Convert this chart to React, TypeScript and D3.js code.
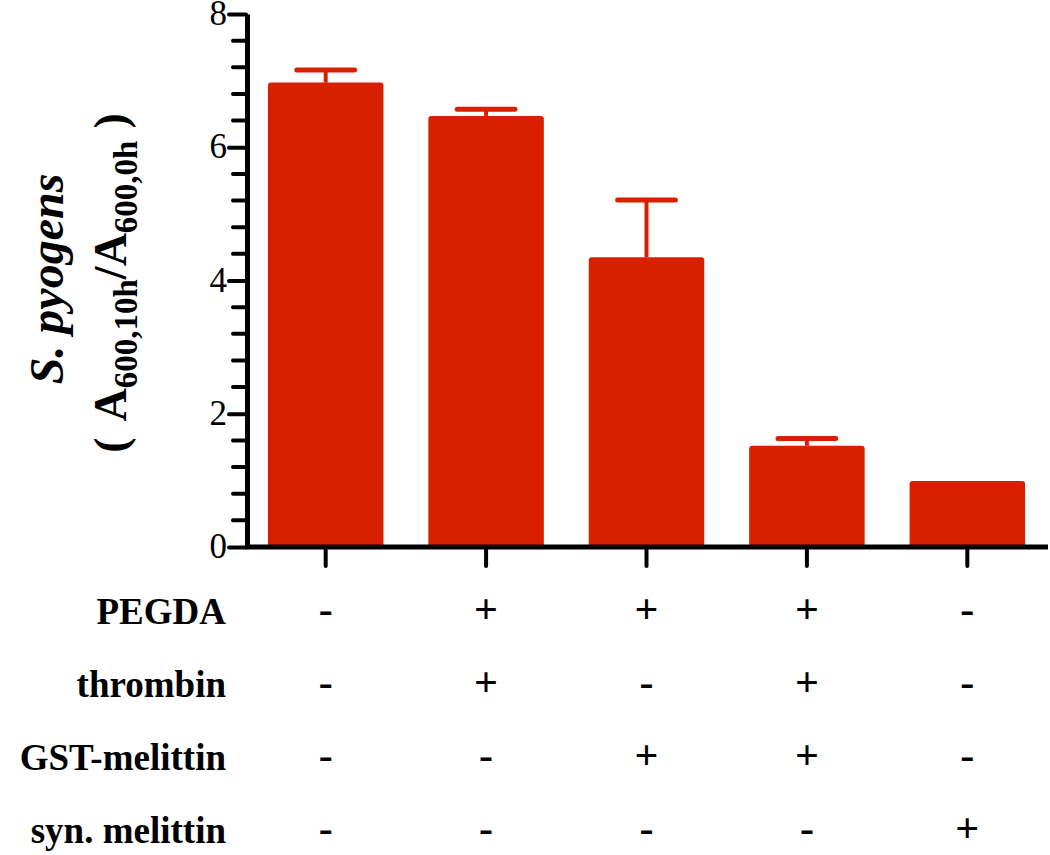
import { useEffect, useRef } from "react"
import * as d3 from "d3"

const groups = ["ctrl", "PEGDA+thrombin", "PEGDA+GST", "PEGDA+thrombin+GST", "syn"]
const means = [6.97, 6.47, 4.35, 1.52, 0.99]
const errors = [0.19, 0.1, 0.86, 0.11, 0]
const yTicks = [0, 2, 4, 6, 8]
const factors = ["PEGDA", "thrombin", "GST-melittin", "syn. melittin"]
const pegda = ["-", "+", "+", "+", "-"]
const thrombin = ["-", "+", "-", "+", "-"]
const gstMelittin = ["-", "-", "+", "+", "-"]
const synMelittin = ["-", "-", "-", "-", "+"]
const signs = [pegda, thrombin, gstMelittin, synMelittin]

const RED = "#d81f00"
const FONT = "'Liberation Serif', 'Times New Roman', serif"

export default function App() {
  const svgRef = useRef(null)

  useEffect(() => {
    document.body.style.margin = "0"
    const width = 1050
    const height = 855

    const svg = d3.select(svgRef.current).attr("width", width).attr("height", height)
    svg.selectAll("*").remove()

    const x = d3.scaleBand().domain(groups).range([245, 1048]).paddingInner(0.28).paddingOuter(0.143)
    const y = d3.scaleLinear().domain([0, 8]).range([547, 14])
    const rowY = d3.scaleLinear().domain([0, factors.length - 1]).range([624, 843])

    // bars
    svg
      .append("g")
      .selectAll("rect")
      .data(groups)
      .enter()
      .append("rect")
      .attr("x", (d) => x(d))
      .attr("y", (d, i) => y(means[i]))
      .attr("width", x.bandwidth())
      .attr("height", (d, i) => y(0) - y(means[i]) + 2)
      .attr("rx", 3)
      .attr("fill", RED)

    // error bars (upper only)
    const err = svg
      .append("g")
      .selectAll("g")
      .data(groups.filter((d, i) => errors[i] > 0))
      .enter()
      .append("g")
    const top = (d) => y(means[groups.indexOf(d)] + errors[groups.indexOf(d)])
    err
      .append("line")
      .attr("x1", (d) => x(d) + x.bandwidth() / 2)
      .attr("x2", (d) => x(d) + x.bandwidth() / 2)
      .attr("y1", (d) => y(means[groups.indexOf(d)]))
      .attr("y2", top)
      .attr("stroke", RED)
      .attr("stroke-width", 4)
    err
      .append("line")
      .attr("x1", (d) => x(d) + x.bandwidth() / 4)
      .attr("x2", (d) => x(d) + (x.bandwidth() * 3) / 4)
      .attr("y1", top)
      .attr("y2", top)
      .attr("stroke", RED)
      .attr("stroke-width", 5)
      .attr("stroke-linecap", "round")

    // y axis
    const yAxis = svg
      .append("g")
      .attr("transform", "translate(247,0)")
      .call(d3.axisLeft(y).tickValues(yTicks).tickSize(18).tickSizeOuter(0).tickPadding(2).tickFormat(d3.format("d")))
    yAxis.select(".domain").attr("stroke-width", 5).attr("stroke", "#000")
    yAxis.selectAll(".tick line").attr("stroke-width", 4).attr("stroke-linecap", "round").attr("x1", -1)
    yAxis
      .selectAll(".tick text")
      .attr("font-family", FONT)
      .attr("font-size", 35)
      .attr("fill", "#000")
      .attr("dy", "0.3em")

    const minor = d3.range(0, 8.001, 0.4).filter((v) => Math.abs(v / 2 - Math.round(v / 2)) > 0.01)
    svg
      .append("g")
      .attr("transform", "translate(247,0)")
      .selectAll("line")
      .data(minor)
      .enter()
      .append("line")
      .attr("x1", -14)
      .attr("x2", 0)
      .attr("y1", (d) => y(d))
      .attr("y2", (d) => y(d))
      .attr("stroke", "#000")
      .attr("stroke-width", 4)
      .attr("stroke-linecap", "round")

    // x axis
    const xAxis = svg
      .append("g")
      .attr("transform", `translate(0,${y(0)})`)
      .call(d3.axisBottom(x).tickSize(19).tickSizeOuter(0).tickFormat(() => ""))
    xAxis.select(".domain").attr("stroke-width", 5).attr("stroke", "#000").attr("d", "M245,0H1048")
    xAxis.selectAll(".tick line").attr("stroke-width", 4).attr("stroke-linecap", "round")

    // y label
    svg
      .append("text")
      .attr("transform", "translate(63,279) rotate(-90)")
      .attr("text-anchor", "middle")
      .attr("font-family", FONT)
      .attr("font-size", 48)
      .attr("font-weight", "bold")
      .attr("font-style", "italic")
      .text("S. pyogens")

    const lab = svg
      .append("text")
      .attr("transform", "translate(126,283) rotate(-90)")
      .attr("text-anchor", "middle")
      .attr("font-family", FONT)
      .attr("font-size", 46)
      .attr("font-weight", "bold")
    lab.append("tspan").text("(")
    lab.append("tspan").attr("dx", 16).text("A")
    lab.append("tspan").attr("font-size", 33).attr("dy", 11).text("600,10h")
    lab.append("tspan").attr("dy", -11).text("/A")
    lab.append("tspan").attr("font-size", 33).attr("dy", 11).text("600,0h")
    lab.append("tspan").attr("dy", -11).attr("dx", 12).text(")")

    // condition table
    const table = svg.append("g").attr("font-family", FONT).attr("font-weight", "bold")
    table
      .selectAll("text.rowlab")
      .data(factors)
      .enter()
      .append("text")
      .attr("class", "rowlab")
      .attr("x", 226)
      .attr("y", (d, i) => rowY(i))
      .attr("text-anchor", "end")
      .attr("font-size", 37)
      .text((d) => d)

    factors.forEach((f, r) => {
      table
        .selectAll(`text.s${r}`)
        .data(groups)
        .enter()
        .append("text")
        .attr("class", `s${r}`)
        .attr("x", (d) => x(d) + x.bandwidth() / 2)
        .attr("y", rowY(r) - 1)
        .attr("text-anchor", "middle")
        .attr("font-size", 42)
        .text((d, i) => signs[r][i])
    })
  }, [])

  return <svg ref={svgRef}></svg>
}
